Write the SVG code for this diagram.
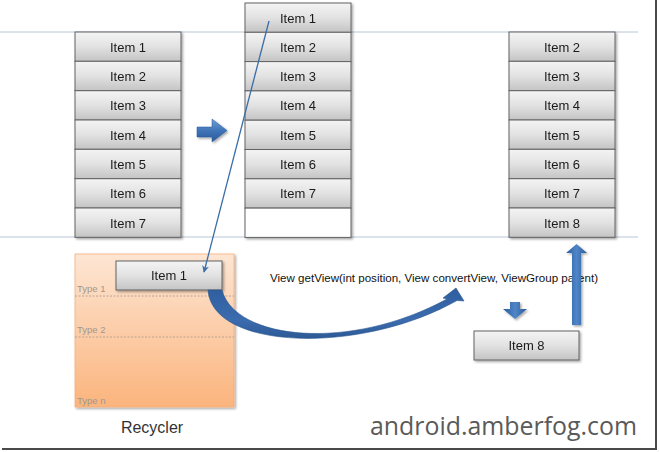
<svg xmlns="http://www.w3.org/2000/svg" width="660" height="452" viewBox="0 0 660 452">
<defs>
<linearGradient id="gBox" x1="0" y1="0" x2="0" y2="1">
<stop offset="0" stop-color="#f4f4f4"/>
<stop offset="0.5" stop-color="#e2e2e2"/>
<stop offset="1" stop-color="#c4c4c4"/>
</linearGradient>
<linearGradient id="gRec" x1="0" y1="0" x2="0" y2="1">
<stop offset="0" stop-color="#fde6d4"/>
<stop offset="1" stop-color="#fbb47d"/>
</linearGradient>
<linearGradient id="gBlue" x1="0" y1="0" x2="0" y2="1">
<stop offset="0" stop-color="#6f9fd8"/>
<stop offset="0.5" stop-color="#3f74b8"/>
<stop offset="1" stop-color="#2a5a99"/>
</linearGradient>
<linearGradient id="gBlueH" x1="0" y1="0" x2="1" y2="0">
<stop offset="0" stop-color="#2a5a99"/>
<stop offset="0.5" stop-color="#4f86c8"/>
<stop offset="1" stop-color="#2a5a99"/>
</linearGradient>
<linearGradient id="gCurve" gradientUnits="userSpaceOnUse" x1="0" y1="290" x2="0" y2="340">
<stop offset="0" stop-color="#2f5f9f"/>
<stop offset="0.6" stop-color="#3b6cae"/>
<stop offset="1" stop-color="#2b5894"/>
</linearGradient>
<filter id="sh" x="-10%" y="-10%" width="130%" height="130%">
<feDropShadow dx="1.5" dy="1.5" stdDeviation="1.2" flood-color="#000" flood-opacity="0.35"/>
</filter>
<marker id="ah" viewBox="0 0 10 10" refX="9" refY="5" markerWidth="7" markerHeight="7" orient="auto" markerUnits="userSpaceOnUse">
<path d="M0,0 L10,5 L0,10 L3,5 Z" fill="#3a6ea8"/>
</marker>
</defs>
<style>
.box{fill:url(#gBox);stroke:#626262;stroke-width:1}
.empty{fill:#ffffff;stroke:#626262;stroke-width:1}
.lbl{font-family:"Liberation Sans",Arial,sans-serif;font-size:13px;fill:#1a1a1a;text-anchor:middle}
.type{font-family:"Liberation Sans",Arial,sans-serif;font-size:9.5px;fill:#a09890}
.guide{stroke:#b9c6d6;stroke-width:1}
.dash{stroke:#a89a8e;stroke-width:0.8;stroke-dasharray:2 1.5}
.blue{fill:url(#gBlue)}
</style>
<rect width="660" height="452" fill="#ffffff"/>
<line class="guide" x1="0" y1="32" x2="638" y2="32"/>
<line class="guide" x1="0" y1="237" x2="638" y2="237"/>

<g id="list-before" filter="url(#sh)">
<rect class="box" x="75" y="32" width="106" height="29.3"/>
<rect class="box" x="75" y="61.3" width="106" height="29.3"/>
<rect class="box" x="75" y="90.7" width="106" height="29.3"/>
<rect class="box" x="75" y="120" width="106" height="29.3"/>
<rect class="box" x="75" y="149.3" width="106" height="29.3"/>
<rect class="box" x="75" y="178.7" width="106" height="29.3"/>
<rect class="box" x="75" y="208" width="106" height="29.3"/>
<text class="lbl" x="128" y="51.5">Item 1</text>
<text class="lbl" x="128" y="80.8">Item 2</text>
<text class="lbl" x="128" y="110.2">Item 3</text>
<text class="lbl" x="128" y="139.5">Item 4</text>
<text class="lbl" x="128" y="168.8">Item 5</text>
<text class="lbl" x="128" y="198.2">Item 6</text>
<text class="lbl" x="128" y="227.5">Item 7</text>
</g>

<g id="list-scrolling" filter="url(#sh)">
<rect class="box" x="245" y="3" width="106" height="29.3"/>
<rect class="box" x="245" y="32.3" width="106" height="29.3"/>
<rect class="box" x="245" y="61.6" width="106" height="29.3"/>
<rect class="box" x="245" y="90.9" width="106" height="29.3"/>
<rect class="box" x="245" y="120.2" width="106" height="29.3"/>
<rect class="box" x="245" y="149.5" width="106" height="29.3"/>
<rect class="box" x="245" y="178.8" width="106" height="29.3"/>
<rect class="empty" x="245" y="208.1" width="106" height="29.3"/>
<text class="lbl" x="298" y="22.5">Item 1</text>
<text class="lbl" x="298" y="51.8">Item 2</text>
<text class="lbl" x="298" y="81.1">Item 3</text>
<text class="lbl" x="298" y="110.4">Item 4</text>
<text class="lbl" x="298" y="139.7">Item 5</text>
<text class="lbl" x="298" y="169">Item 6</text>
<text class="lbl" x="298" y="198.3">Item 7</text>
</g>

<g id="list-after" filter="url(#sh)">
<rect class="box" x="509" y="32" width="106" height="29.3"/>
<rect class="box" x="509" y="61.3" width="106" height="29.3"/>
<rect class="box" x="509" y="90.7" width="106" height="29.3"/>
<rect class="box" x="509" y="120" width="106" height="29.3"/>
<rect class="box" x="509" y="149.3" width="106" height="29.3"/>
<rect class="box" x="509" y="178.7" width="106" height="29.3"/>
<rect class="box" x="509" y="208" width="106" height="29.3"/>
<text class="lbl" x="562" y="51.5">Item 2</text>
<text class="lbl" x="562" y="80.8">Item 3</text>
<text class="lbl" x="562" y="110.2">Item 4</text>
<text class="lbl" x="562" y="139.5">Item 5</text>
<text class="lbl" x="562" y="168.8">Item 6</text>
<text class="lbl" x="562" y="198.2">Item 7</text>
<text class="lbl" x="562" y="227.5">Item 8</text>
</g>

<g id="recycler">
<rect x="75" y="254" width="159" height="153" fill="url(#gRec)" stroke="#f5b07a" stroke-width="0.8" filter="url(#sh)"/>
<line class="dash" x1="75" y1="296" x2="234" y2="296"/>
<line class="dash" x1="75" y1="337" x2="234" y2="337"/>
<text class="type" x="77" y="292">Type 1</text>
<text class="type" x="77" y="333">Type 2</text>
<text class="type" x="77" y="404">Type n</text>
<text x="152" y="433" font-family="'Liberation Sans',Arial,sans-serif" font-size="16" fill="#333333" text-anchor="middle">Recycler</text>
</g>

<g id="recycled-item1" filter="url(#sh)">
<rect class="box" x="116" y="261" width="106" height="29"/>
<text class="lbl" x="169" y="280">Item 1</text>
</g>

<g id="item8" filter="url(#sh)">
<rect class="box" x="474" y="331" width="105" height="29"/>
<text class="lbl" x="526.5" y="350">Item 8</text>
</g>

<g id="getview-label">
<text x="270" y="282" font-family="'Liberation Sans',Arial,sans-serif" font-size="10.5" fill="#111111" textLength="328" lengthAdjust="spacingAndGlyphs">View getView(int position, View convertView, ViewGroup parent)</text>
</g>

<g id="connectors">
<path d="M197,127 L212,127 L212,119 L227,130.5 L212,142 L212,137 L197,137 Z" class="blue" stroke="#2a5a99" stroke-width="0.5" filter="url(#sh)"/>
<line x1="269" y1="21" x2="204" y2="272" stroke="#3a6ea8" stroke-width="1.3" marker-end="url(#ah)"/>
<path d="M208,290 C212,350 360,355 457,300.5 L464,301 L456,288 L443,298 L447,299 C350,352 235,340 222,290 Z" fill="url(#gCurve)" stroke="#2a5590" stroke-width="0.6" stroke-linejoin="round"/>
<path d="M510,302 L520,302 L520,309 L527,309 L515,319 L503,309 L510,309 Z" fill="url(#gBlueH)" filter="url(#sh)"/>
<path d="M572,325 L572,253 L566,253 L576.5,244 L587,253 L581,253 L581,325 Z" fill="url(#gBlueH)" filter="url(#sh)"/>
</g>

<g id="watermark">
<text x="370" y="435" font-family="'Open Sans','Liberation Sans',sans-serif" font-size="26" fill="#5a5a5a" textLength="267" lengthAdjust="spacingAndGlyphs">android.amberfog.com</text>
</g>

<g id="frame">
<line x1="656" y1="0" x2="656" y2="450" stroke="#4a4a4a" stroke-width="2"/>
<line x1="2" y1="449" x2="657" y2="449" stroke="#4a4a4a" stroke-width="2"/>
</g>
</svg>
